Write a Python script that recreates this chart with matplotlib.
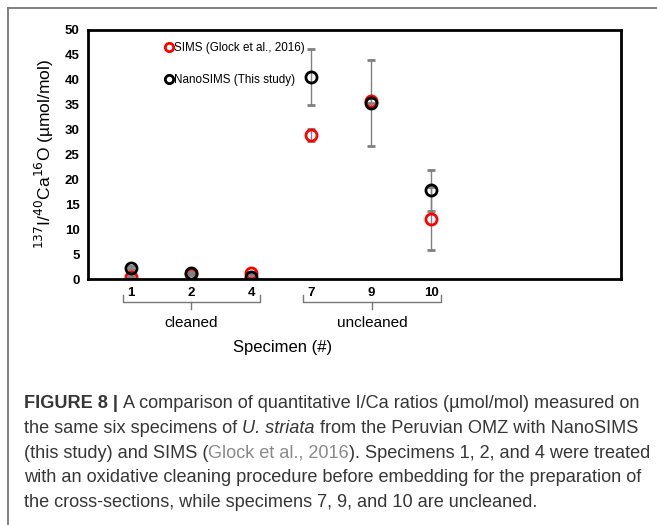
import matplotlib.pyplot as plt
from matplotlib.lines import Line2D

plt.rcParams['font.family'] = ['Liberation Sans', 'DejaVu Sans']

specimens = ['1', '2', '4', '7', '9', '10']
sims = [0.5, 1.0, 1.3, 28.9, 35.8, 12.1]
sims_err = [0.2, 0.2, 0.2, 1.2, 0.5, 6.3]
nano = [2.3, 1.3, 0.5, 40.6, 35.3, 17.8]
nano_err = [0.3, 0.3, 0.3, 5.6, 8.6, 4.1]
series_names = ['SIMS (Glock et al., 2016)', 'NanoSIMS (This study)']
groups = ['cleaned', 'uncleaned']

W, H = 657, 525
fig = plt.figure(figsize=(W / 100, H / 100), dpi=100)

def px(x, y):
    return x / W, 1 - y / H

# outer frame (only top and left visible)
fig.add_artist(Line2D([8 / W, 1], [1 - 8 / H, 1 - 8 / H], color='#777777', lw=1.3))
fig.add_artist(Line2D([8 / W, 8 / W], [0, 1 - 8 / H], color='#777777', lw=1.3))

l, t, r, b = 88, 30, 621, 279
ax = fig.add_axes([l / W, 1 - b / H, (r - l) / W, (b - t) / H])

x = list(range(len(specimens)))
style = dict(fmt='o', mfc='none', mew=2, ms=8, ecolor='#808080', elinewidth=1,
             capsize=3, capthick=1)
ax.errorbar(x, sims, yerr=sims_err, mec='#ff0000', **style)
ax.errorbar(x, nano, yerr=nano_err, mec='black', **style)

ax.set_xlim((l - 131) / 60, (r - 131) / 60)
ax.set_ylim(0, 50)
ax.set_yticks(range(0, 51, 5))
ax.set_xticks(x)
ax.set_xticklabels(specimens)
ax.tick_params(length=0, labelsize=9.5, pad=6)
for lab in ax.get_xticklabels() + ax.get_yticklabels():
    lab.set_fontweight('bold')
for s in ax.spines.values():
    s.set_linewidth(2)

ax.set_ylabel(r'$^{137}$I/$^{40}$Ca$^{16}$O (µmol/mol)', fontsize=12.5, labelpad=6)

handles = [Line2D([], [], ls='none', marker='o', mfc='none', mec=c, mew=2, ms=6)
           for c in ['#ff0000', 'black']]
ax.legend(handles, series_names, loc='upper left',
          bbox_to_anchor=((165 - l) / (r - l), 0.95),
          frameon=False, fontsize=8.4, handlelength=0.7, handletextpad=0.05,
          labelspacing=1.65, borderpad=0, borderaxespad=0)

# group brackets
tr = ax.get_xaxis_transform()
ah = b - t
def ya(ypx):
    return (b - ypx) / ah

brackets = [(-0.13, 2.15, 1.0), (2.87, 5.17, 4.02)]
for (x0, x1, xc), name in zip(brackets, groups):
    ax.plot([x0, x0, x1, x1], [ya(295), ya(302), ya(302), ya(295)], color='#777777',
            lw=1, transform=tr, clip_on=False)
    ax.plot([xc, xc], [ya(302), ya(309)], color='#777777', lw=1, transform=tr,
            clip_on=False)
    ax.text(xc, ya(323), name, transform=tr, ha='center', va='center', fontsize=11)

ax.text(2.53, ya(347), 'Specimen (#)', transform=tr, ha='center', va='center',
        fontsize=12)

# caption
fig.canvas.draw()
rend = fig.canvas.get_renderer()
cap_fs = 13.05
dark = '#363636'
lines = [
    [('FIGURE 8 | ', 'bold', 'normal', dark),
     ('A comparison of quantitative I/Ca ratios (\u00b5mol/mol) measured on', 'normal', 'normal', dark)],
    [('the same six specimens of ', 'normal', 'normal', dark),
     ('U. striata', 'normal', 'italic', dark),
     (' from the Peruvian OMZ with NanoSIMS', 'normal', 'normal', dark)],
    [('(this study) and SIMS (', 'normal', 'normal', dark),
     ('Glock et al., 2016', 'normal', 'normal', '#8a8a8a'),
     ('). Specimens 1, 2, and 4 were treated', 'normal', 'normal', dark)],
    [('with an oxidative cleaning procedure before embedding for the preparation of', 'normal', 'normal', dark)],
    [('the cross-sections, while specimens 7, 9, and 10 are uncleaned.', 'normal', 'normal', dark)],
]
baselines = [408, 433, 458, 482, 507]
for segs, yb in zip(lines, baselines):
    xpos = 24
    for txt, wt, st, col in segs:
        tt = fig.text(*px(xpos, yb), txt, fontsize=cap_fs, fontweight=wt,
                      fontstyle=st, color=col, va='baseline', ha='left')
        xpos += tt.get_window_extent(rend).width

fig.savefig('out.png', dpi=100)
